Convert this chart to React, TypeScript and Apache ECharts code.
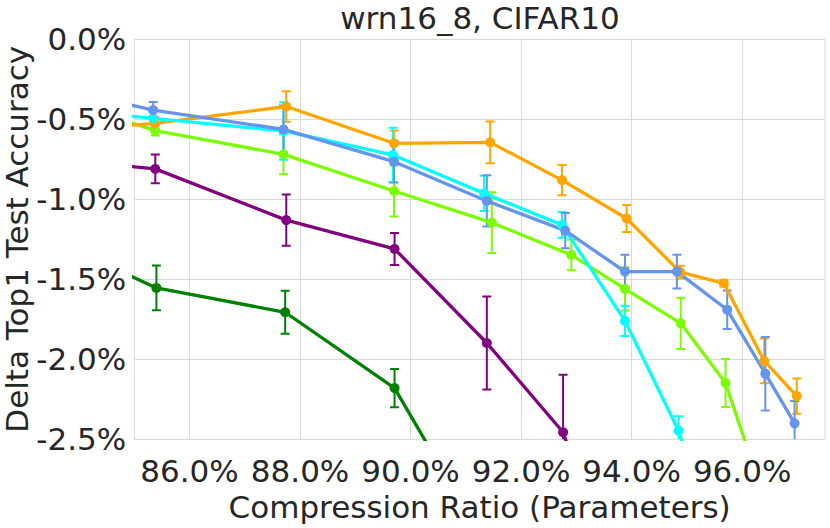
import React, { useEffect, useRef } from 'react';
import * as echarts from 'echarts';

const TITLE = 'wrn16_8, CIFAR10';
const X_NAME = 'Compression Ratio (Parameters)';
const Y_NAME = 'Delta Top1 Test Accuracy';
const X_TICKS = [86, 88, 90, 92, 94, 96];

// each series: compression ratio (%), delta accuracy (%), error (±%)
const darkGreenX = [83.0, 85.4, 87.73, 89.71, 91.4];
const darkGreenY = [-1.17, -1.554, -1.706, -2.18, -3.18];
const darkGreenErr = [null, 0.14, 0.135, 0.12, null];

const purpleX = [83.0, 85.38, 87.75, 89.71, 91.38, 92.76, 93.89];
const purpleY = [-0.73, -0.81, -1.13, -1.31, -1.898, -2.456, -3.6];
const purpleErr = [null, 0.09, 0.16, 0.1, 0.29, 0.36, null];

const lawnGreenX = [83.0, 85.38, 87.7, 89.7, 91.47, 92.91, 93.88, 94.89, 95.7, 96.41];
const lawnGreenY = [-0.3, -0.571, -0.719, -0.948, -1.146, -1.348, -1.56, -1.775, -2.148, -2.88];
const lawnGreenErr = [null, 0.03, 0.125, 0.16, 0.19, 0.095, 0.135, 0.16, 0.15, null];

const orangeX = [83.0, 85.37, 87.75, 89.7, 91.44, 92.74, 93.91, 94.88, 95.67, 96.4, 96.99];
const orangeY = [-0.585, -0.526, -0.42, -0.65, -0.644, -0.88, -1.12, -1.455, -1.525, -2.01, -2.23];
const orangeErr = [null, 0.04, 0.095, 0.08, 0.13, 0.095, 0.085, 0.04, 0.02, 0.14, 0.11];

const cyanX = [83.0, 85.34, 87.7, 89.68, 91.33, 92.74, 93.88, 94.85, 95.7];
const cyanY = [-0.42, -0.494, -0.573, -0.723, -0.963, -1.16, -1.76, -2.446, -3.4];
const cyanErr = [null, 0.06, 0.18, 0.17, 0.11, 0.08, 0.095, 0.09, null];

const blueX = [83.0, 85.34, 87.7, 89.7, 91.38, 92.8, 93.88, 94.82, 95.73, 96.42, 96.95];
const blueY = [-0.26, -0.442, -0.563, -0.765, -1.01, -1.196, -1.452, -1.452, -1.69, -2.09, -2.4];
const blueErr = [null, 0.05, 0.15, 0.13, 0.16, 0.11, 0.106, 0.106, 0.12, 0.23, 0.14];

const SERIES = [
  { name: 'darkgreen', color: '#008000', x: darkGreenX, y: darkGreenY, err: darkGreenErr },
  { name: 'purple', color: '#800080', x: purpleX, y: purpleY, err: purpleErr },
  { name: 'lawngreen', color: '#7CFC00', x: lawnGreenX, y: lawnGreenY, err: lawnGreenErr },
  { name: 'orange', color: '#FFA500', x: orangeX, y: orangeY, err: orangeErr },
  { name: 'cyan', color: '#00FFFF', x: cyanX, y: cyanY, err: cyanErr },
  { name: 'cornflowerblue', color: '#6495ED', x: blueX, y: blueY, err: blueErr },
];

const FONT = 'DejaVu Sans';
const TEXT = '#262626';
const GRID = '#d9d9d9';

export default function App() {
  const ref = useRef<HTMLDivElement>(null);
  useEffect(() => {
    document.body.style.margin = '0';
    if (!ref.current) return;
    const chart = echarts.init(ref.current, undefined, { renderer: 'svg' });
    const series: any[] = [];
    SERIES.forEach((s) => {
      const errData = s.x
        .map((x, i) => (s.err[i] == null ? null : [x, s.y[i], s.err[i]]))
        .filter((d) => d !== null);
      series.push({
        type: 'custom',
        name: s.name + '-err',
        clip: true,
        silent: true,
        encode: { x: 0, y: 1 },
        data: errData,
        renderItem: (params: any, api: any) => {
          const x = api.value(0);
          const y = api.value(1);
          const e = api.value(2);
          const top = api.coord([x, y + e]);
          const bot = api.coord([x, y - e]);
          const hw = 4.5;
          const style = { stroke: s.color, lineWidth: 2 };
          return {
            type: 'group',
            children: [
              { type: 'line', shape: { x1: top[0], y1: top[1], x2: bot[0], y2: bot[1] }, style },
              { type: 'line', shape: { x1: top[0] - hw, y1: top[1], x2: top[0] + hw, y2: top[1] }, style },
              { type: 'line', shape: { x1: bot[0] - hw, y1: bot[1], x2: bot[0] + hw, y2: bot[1] }, style },
            ],
          };
        },
      });
      series.push({
        type: 'line',
        name: s.name,
        clip: true,
        silent: true,
        data: s.x.map((x, i) => [x, s.y[i]]),
        symbol: 'circle',
        symbolSize: 10,
        showSymbol: true,
        lineStyle: { color: s.color, width: 3.3 },
        itemStyle: { color: s.color, borderWidth: 0 },
      });
    });

    chart.setOption({
      animation: false,
      graphic: [
        {
          type: 'text',
          x: 480,
          y: 18,
          style: {
            text: TITLE,
            font: `31px "${FONT}"`,
            fill: TEXT,
            textAlign: 'center',
            textVerticalAlign: 'middle',
          },
        },
      ],
      grid: {
        left: 134.3,
        right: 5,
        top: 39.3,
        bottom: 88.7,
        containLabel: false,
        outerBoundsMode: 'none',
        show: true,
        borderColor: GRID,
        borderWidth: 1,
        backgroundColor: 'transparent',
      },
      xAxis: {
        type: 'value',
        min: 85,
        max: 97.5,
        axisLine: { show: false },
        axisTick: { show: false, customValues: X_TICKS },
        axisLabel: {
          customValues: X_TICKS,
          formatter: (v: number) => v.toFixed(1) + '%',
          fontSize: 31,
          fontFamily: FONT,
          color: TEXT,
          margin: 16,
        },
        splitLine: { show: true, lineStyle: { color: GRID, width: 1 } },
        name: X_NAME,
        nameLocation: 'middle',
        nameGap: 52,
        nameMoveOverlap: false,
        nameTextStyle: { fontSize: 31, fontFamily: FONT, color: TEXT },
      },
      yAxis: {
        type: 'value',
        min: -2.5,
        max: 0,
        interval: 0.5,
        axisLine: { show: false },
        axisTick: { show: false },
        axisLabel: {
          formatter: (v: number) => v.toFixed(1) + '%',
          fontSize: 31,
          fontFamily: FONT,
          color: TEXT,
          margin: 8,
        },
        splitLine: { show: true, lineStyle: { color: GRID, width: 1 } },
        name: Y_NAME,
        nameLocation: 'middle',
        nameRotate: 90,
        nameGap: 102,
        nameMoveOverlap: false,
        nameTextStyle: { fontSize: 31, fontFamily: FONT, color: TEXT },
      },
      series,
    });
    return () => chart.dispose();
  }, []);
  return <div ref={ref} style={{ width: 830, height: 528 }} />;
}
